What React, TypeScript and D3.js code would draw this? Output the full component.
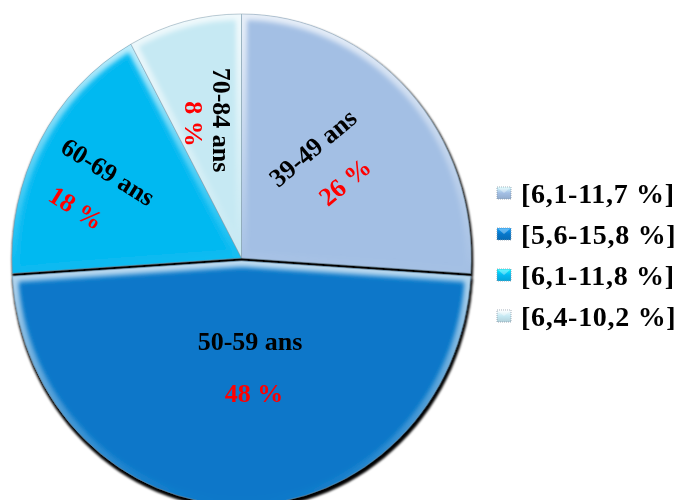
import React from "react";
import * as d3 from "d3";

// Age groups and their share of the total (percent)
const ageGroups = ["39-49 ans", "50-59 ans", "60-69 ans", "70-84 ans"];
const shares = [26, 48, 18, 8];
// Legend entries (confidence ranges)
const ranges = ["[6,1-11,7 %]", "[5,6-15,8 %]", "[6,1-11,8 %]", "[6,4-10,2 %]"];
const sliceColors = ["#a3bfe4", "#0877c9", "#05b9f1", "#c6e9f3"];

const W = 690;
const H = 500;
const CX = 241.5;
const CY = 258;
const RY = 244;
const RX = 229.5;
const SX = RX / RY;
const EXPLODE = [0, 3, 0, 0];

// Label placement: name line and percent line centres, and text rotation
const labelLayout = [
  { rot: -40, name: [313, 148], pct: [345, 182] },
  { rot: 0, name: [250, 341], pct: [254, 393] },
  { rot: 32, name: [108, 172], pct: [76, 208] },
  { rot: 90, name: [221, 120], pct: [193, 124] },
];

const FONT = "'Liberation Serif', 'Times New Roman', serif";

export default function App() {
  const pie = d3
    .pie<number>()
    .sort(null)
    .value((d) => d)
    .startAngle(0)
    .endAngle(2 * Math.PI);
  const arcs = pie(shares);
  const arc = d3.arc<d3.PieArcDatum<number>>().innerRadius(0).outerRadius(RY);

  const legendX = 497;
  const legendY0 = 193;
  const legendStep = 41;

  return (
    <svg
      width={W}
      height={H}
      style={{ position: "absolute", left: 0, top: 0, background: "#fff" }}
    >
      <defs>
        <filter id="pieShadow" x="-10%" y="-10%" width="120%" height="125%">
          <feMorphology in="SourceAlpha" operator="dilate" radius="1.2" result="d" />
          <feGaussianBlur in="d" stdDeviation="1" result="b" />
          <feOffset in="b" dx="0.5" dy="3" result="o" />
          <feMerge>
            <feMergeNode in="o" />
            <feMergeNode in="SourceGraphic" />
          </feMerge>
        </filter>
        <filter id="soft" x="-10%" y="-10%" width="120%" height="120%">
          <feGaussianBlur stdDeviation="2.5" />
        </filter>
        <linearGradient id="rimLight" x1="0" y1="0" x2="0" y2="1">
          <stop offset="0" stopColor="#fff" stopOpacity="0.75" />
          <stop offset="0.5" stopColor="#fff" stopOpacity="0.35" />
          <stop offset="1" stopColor="#fff" stopOpacity="0" />
        </linearGradient>
        {arcs.map((a, i) => (
          <clipPath id={`clip${i}`} key={i}>
            <path d={arc(a) || ""} />
          </clipPath>
        ))}
        {sliceColors.map((c, i) => (
          <linearGradient id={`sw${i}`} key={i} x1="0" y1="0" x2="0" y2="1">
            <stop offset="0" stopColor={d3.color(c)!.brighter(0.8).formatHex()} />
            <stop offset="0.5" stopColor={c} />
            <stop offset="1" stopColor={d3.color(c)!.darker(0.3).formatHex()} />
          </linearGradient>
        ))}
      </defs>

      <g filter="url(#pieShadow)">
        {arcs.map((a, i) => {
          const mid = (a.startAngle + a.endAngle) / 2;
          const ox = Math.sin(mid) * EXPLODE[i];
          const oy = -Math.cos(mid) * EXPLODE[i];
          return (
            <g
              key={i}
              transform={`translate(${CX + ox},${CY + oy}) scale(${SX},1)`}
            >
              <path d={arc(a) || ""} fill={sliceColors[i]} />
              <g clipPath={`url(#clip${i})`}>
                <path
                  d={arc(a) || ""}
                  fill="none"
                  stroke="url(#rimLight)"
                  strokeWidth={12}
                  filter="url(#soft)"
                />
              </g>
              <path
                d={arc(a) || ""}
                fill="none"
                stroke="#7d98a8"
                strokeOpacity={0.6}
                strokeWidth={0.8}
              />
            </g>
          );
        })}
      </g>

      {arcs.map((a, i) => {
        const L = labelLayout[i];
        return (
          <g key={i} fontFamily={FONT} fontWeight="bold" fontSize={26} textAnchor="middle">
            <text
              x={L.name[0]}
              y={L.name[1]}
              dominantBaseline="central"
              fill="#000"
              transform={`rotate(${L.rot},${L.name[0]},${L.name[1]})`}
            >
              {ageGroups[i]}
            </text>
            <text
              x={L.pct[0]}
              y={L.pct[1]}
              dominantBaseline="central"
              fill="#ff0000"
              transform={`rotate(${L.rot},${L.pct[0]},${L.pct[1]})`}
            >
              {`${a.data} %`}
            </text>
          </g>
        );
      })}

      <g fontFamily={FONT} fontWeight="bold" fontSize={28}>
        {ranges.map((r, i) => {
          const y = legendY0 + i * legendStep;
          return (
            <g key={i}>
              <rect
                x={legendX}
                y={y - 6}
                width={14}
                height={12}
                fill={`url(#sw${i})`}
                stroke="#8a9aa8"
                strokeWidth={0.8}
                strokeDasharray="1 1"
              />
              <path
                d={`M${legendX + 0.5},${y - 5.5} L${legendX + 7},${y} L${legendX + 13.5},${y - 5.5} Z`}
                fill="#fff"
                fillOpacity={0.35}
              />
              <text x={legendX + 24} y={y} dominantBaseline="central" fill="#000" letterSpacing={0.7}>
                {r}
              </text>
            </g>
          );
        })}
      </g>
    </svg>
  );
}
